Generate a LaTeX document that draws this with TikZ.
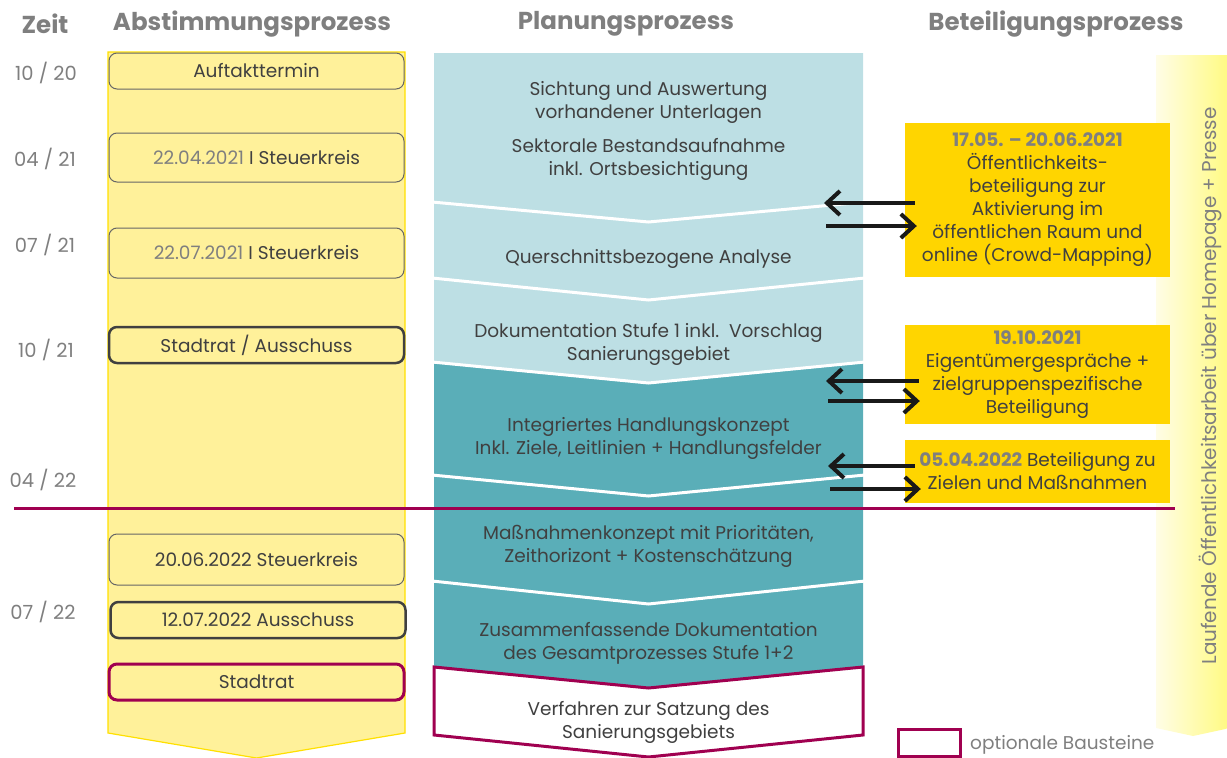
\documentclass[tikz,border=0pt]{standalone}
\usepackage{fontspec}
\setmainfont{Poppins}
\usetikzlibrary{arrows.meta}
\definecolor{cyel}{HTML}{FFF19A}
\definecolor{ybord}{HTML}{FFE000}
\definecolor{plight}{HTML}{BDDFE4}
\definecolor{pdark}{HTML}{5AAEB8}
\definecolor{gold}{HTML}{FFD500}
\definecolor{crim}{HTML}{A00050}
\definecolor{tgray}{HTML}{7F7F7F}
\definecolor{tdark}{HTML}{404040}
\definecolor{barL}{HTML}{FFFDE6}
\definecolor{barR}{HTML}{FFFA80}
\newcommand{\bodyfont}{\fontsize{18.5}{23}\selectfont}
\tikzset{
  head/.style={text=tgray, font=\fontsize{24.5}{26}\selectfont\bfseries},
  timelbl/.style={text=tgray, font=\fontsize{19.5}{22}\selectfont},
  abox/.style={rounded corners=8pt, fill=cyel, minimum width=295pt, text=tdark, font=\bodyfont, inner sep=0pt},
  thinbox/.style={abox, draw=tdark!80, line width=1pt},
  thickbox/.style={abox, draw=tdark, line width=2.5pt},
  crimbox/.style={abox, draw=crim, line width=3pt},
  ptext/.style={text=tdark, font=\bodyfont, align=center},
  gbox/.style={fill=gold, minimum width=265pt, text=tdark, font=\bodyfont, align=center, inner sep=0pt},
  arr/.style={draw=black!90, line width=4pt, -{Straight Barb[length=13pt,width=24pt]}},
  sep/.style={draw=white, line width=3pt}
}
\begin{document}
\begin{tikzpicture}[x=1pt,y=-1pt]
\useasboundingbox (0,0) rectangle (1227,758);

% headers
\node[head] (hz) at (45,24) {Zeit};
\node[head] (ha) at (252,24) {Abstimmungsprozess};
\node[head] (hp) at (626,24) {Planungsprozess};
\node[head] (hb) at (1056,24) {Beteiligungsprozess};

% time labels
\node[timelbl] (t1) at (46,73) {10 / 20};
\node[timelbl] (t2) at (45,159) {04 / 21};
\node[timelbl] (t3) at (45,245) {07 / 21};
\node[timelbl] (t4) at (46,350) {10 / 21};
\node[timelbl] (t5) at (43,480) {04 / 22};
\node[timelbl] (t6) at (43,612) {07 / 22};

% yellow column
\fill[cyel, draw=ybord, line width=1.2pt] (108,52) -- (405,52) -- (405,733) -- (256.5,758) -- (108,733) -- cycle;

\node[thinbox, minimum height=36pt] (a1) at (256.5,71) {Auftakttermin};
\node[thinbox, minimum height=49pt] (a2) at (256.5,157.5) {\textcolor{tgray}{22.04.2021} I Steuerkreis};
\node[thinbox, minimum height=50pt] (a3) at (256.5,253) {\textcolor{tgray}{22.07.2021} I Steuerkreis};
\node[thickbox, minimum height=36pt] (a4) at (256.5,345) {Stadtrat / Ausschuss};
\node[thinbox, minimum height=51pt] (a5) at (256.5,559.5) {20.06.2022 Steuerkreis};
\node[thickbox, minimum height=36pt] (a6) at (258,620) {12.07.2022 Ausschuss};
\node[crimbox, minimum height=36pt] (a7) at (256.5,682) {Stadtrat};

% planning column
\fill[plight] (434,53) -- (863,53) -- (863,362) -- (648.5,383) -- (434,362) -- cycle;
\fill[pdark] (434,362) -- (648.5,383) -- (863,362) -- (863,667) -- (648.5,688) -- (434,667) -- cycle;
\draw[sep] (432,202) -- (648.5,222) -- (865,202);
\draw[sep] (432,278) -- (648.5,300) -- (865,278);
\draw[sep] (432,362) -- (648.5,383) -- (865,362);
\draw[sep] (432,475) -- (648.5,496) -- (865,475);
\draw[sep] (432,581) -- (648.5,604) -- (865,581);
\draw[fill=white, draw=crim, line width=3pt, line join=miter] (434,667) -- (648.5,688) -- (863,667) -- (863,735) -- (648.5,757) -- (434,735) -- cycle;

\node[ptext] (p1) at (648.5,102.5) {Sichtung und Auswertung\\vorhandener Unterlagen};
\node[ptext] (p1b) at (648.5,159) {Sektorale Bestandsaufnahme\\inkl. Ortsbesichtigung};
\node[ptext] (p2) at (648.5,259) {Querschnittsbezogene Analyse};
\node[ptext] (p3) at (648.5,344) {Dokumentation Stufe 1 inkl.\ \ Vorschlag\\Sanierungsgebiet};
\node[ptext] (p4) at (648.5,438) {Integriertes Handlungskonzept\\Inkl. Ziele, Leitlinien + Handlungsfelder};
\node[ptext] (p5) at (648.5,546) {Maßnahmenkonzept mit Prioritäten,\\Zeithorizont + Kostenschätzung};
\node[ptext] (p6) at (648.5,643.5) {Zusammenfassende Dokumentation\\des Gesamtprozesses Stufe 1+2};
\node[ptext] (p7) at (648.5,722.5) {Verfahren zur Satzung des\\Sanierungsgebiets};

% right bar
\shade[left color=barL, right color=barR] (1156,55) -- (1230,55) -- (1230,728) -- (1193,736) -- (1156,728) -- cycle;
\node[rotate=90, text=tgray, font=\fontsize{20}{22}\selectfont] (lauf) at (1210,386) {Laufende Öffentlichkeitsarbeit über Homepage + Presse};

% participation boxes
\node[gbox, minimum height=154pt] (bA) at (1037.5,200) {\textcolor{tgray}{\bfseries 17.05. – 20.06.2021}\\Öffentlichkeits-\\beteiligung zur\\Aktivierung im\\öffentlichen Raum und\\online (Crowd-Mapping)};
\node[gbox, minimum height=99pt] (bB) at (1037.5,374.5) {\textcolor{tgray}{\bfseries 19.10.2021}\\Eigentümergespräche +\\zielgruppenspezifische\\Beteiligung};
\node[gbox, minimum height=63pt] (bC) at (1037.5,471.5) {\textcolor{tgray}{\bfseries 05.04.2022} Beteiligung zu\\Zielen und Maßnahmen};

% crimson divider
\draw[crim, line width=3pt] (14,508) -- (1175,508);

% arrows
\coordinate (e1) at (824,203);
\coordinate (s2) at (826,226);
\coordinate (e3) at (826,381);
\coordinate (s4) at (828,401);
\coordinate (e5) at (828,466);
\coordinate (s6) at (830,489);
\draw[arr] ([shift={(10,3)}]bA.west) -- (e1);
\draw[arr] (s2) -- ([shift={(12,26)}]bA.west);
\draw[arr] ([shift={(14,6.5)}]bB.west) -- (e3);
\draw[arr] (s4) -- ([shift={(15,26.5)}]bB.west);
\draw[arr] ([shift={(10,-5.5)}]bC.west) -- (e5);
\draw[arr] (s6) -- ([shift={(16,17.5)}]bC.west);

% legend
\node[draw=crim, line width=3pt, fill=white, minimum width=62pt, minimum height=27pt, inner sep=0pt] (leg) at (929.5,743) {};
\node[anchor=west, text=tgray, font=\fontsize{18.5}{20}\selectfont, inner sep=0pt] (legt) at (970,745) {optionale Bausteine};
\end{tikzpicture}
\end{document}
